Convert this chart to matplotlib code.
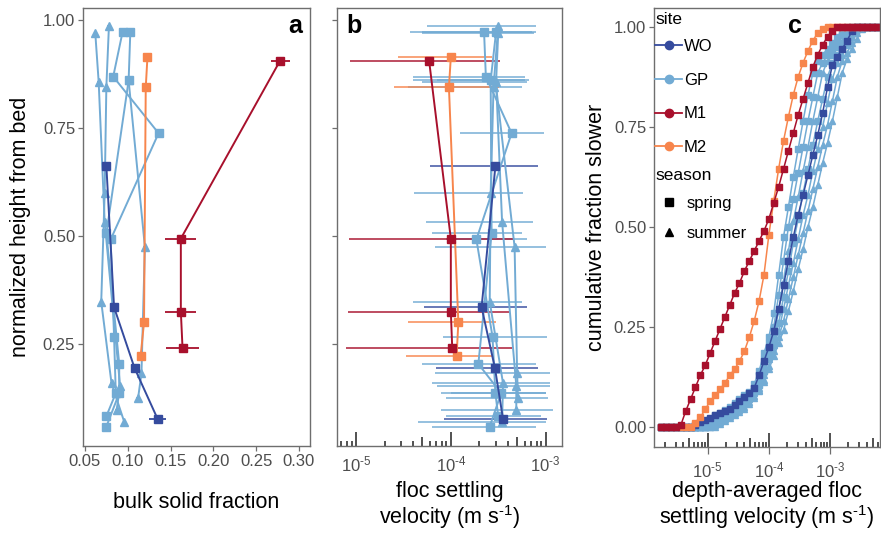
import numpy as np
import matplotlib
matplotlib.use('Agg')
import matplotlib.pyplot as plt
from matplotlib.lines import Line2D
from matplotlib.ticker import FixedLocator, NullLocator, LogLocator, FuncFormatter

plt.rcParams['font.family'] = ['Liberation Sans', 'DejaVu Sans']
plt.rcParams['mathtext.fontset'] = 'custom'
plt.rcParams['mathtext.rm'] = 'Liberation Sans'
plt.rcParams['mathtext.default'] = 'regular'

# ---- profiles (panels a and b) ----
PROFILE_SITE = ['GP', 'GP', 'GP', 'GP', 'GP', 'WO', 'M2', 'M1']
PROFILE_SEASON = ['spring', 'spring', 'summer', 'summer', 'summer', 'spring', 'spring', 'spring']
PROFILE_HEIGHT = [
    [0.973, 0.869, 0.738, 0.492, 0.267, 0.136, 0.083],
    [0.973, 0.860, 0.506, 0.204, 0.136, 0.059],
    [0.986, 0.846, 0.599, 0.348, 0.159, 0.069],
    [0.971, 0.857, 0.533, 0.153, 0.097],
    [0.860, 0.475, 0.182, 0.124],
    [0.662, 0.335, 0.194, 0.076],
    [0.914, 0.844, 0.300, 0.222],
    [0.906, 0.494, 0.325, 0.240],
]
PROFILE_SOLID = [
    [0.094, 0.083, 0.136, 0.080, 0.084, 0.086, 0.075],
    [0.103, 0.101, 0.075, 0.090, 0.090, 0.075],
    [0.078, 0.075, 0.073, 0.069, 0.081, 0.096],
    [0.062, 0.066, 0.073, 0.091, 0.087],
    [0.101, 0.120, 0.116, 0.112],
    [0.075, 0.084, 0.108, 0.135],
    [0.123, 0.121, 0.119, 0.115],
    [0.278, 0.162, 0.162, 0.164],
]
PROFILE_SOLID_ERR = [
    [0.002] * 7,
    [0.002] * 6,
    [0.002] * 6,
    [0.002] * 5,
    [0.002] * 4,
    [0.002, 0.002, 0.003, 0.010],
    [0.002, 0.002, 0.002, 0.002],
    [0.011, 0.018, 0.018, 0.019],
]
PROFILE_VEL = [
    [2.24e-4, 2.34e-4, 4.37e-4, 1.86e-4, 2.75e-4, 2.95e-4, 3.16e-4],
    [3.0e-4, 2.63e-4, 2.69e-4, 1.95e-4, 3.39e-4, 2.57e-4],
    [3.16e-4, 2.82e-4, 2.63e-4, 2.57e-4, 3.55e-4, 3.47e-4],
    [3.16e-4, 3.0e-4, 3.47e-4, 4.9e-4, 4.9e-4],
    [2.95e-4, 4.7e-4, 5.0e-4, 5.1e-4],
    [2.95e-4, 2.11e-4, 2.92e-4, 3.55e-4],
    [1.0e-4, 9.55e-5, 1.20e-4, 1.15e-4],
    [5.9e-5, 1.0e-4, 1.0e-4, 1.035e-4],
]
PROFILE_VEL_LO = [
    [3.7e-5, 4.0e-5, 1.26e-4, 8.9e-5, 8.3e-5, 1.0e-4, 8.9e-5],
    [5.0e-5, 7.1e-5, 6.3e-5, 5.0e-5, 7.9e-5, 6.3e-5],
    [5.6e-5, 3.5e-5, 4.1e-5, 4.0e-5, 6.3e-5, 4.5e-5],
    [5.0e-5, 5.0e-5, 5.5e-5, 7.1e-5, 7.9e-5],
    [4.0e-5, 6.8e-5, 6.8e-5, 8.9e-5],
    [6.0e-5, 5.2e-5, 6.9e-5, 8.5e-5],
    [2.8e-5, 2.5e-5, 3.5e-5, 3.4e-5],
    [8.7e-6, 8.5e-6, 8.3e-6, 7.9e-6],
]
PROFILE_VEL_HI = [
    [7.1e-4, 6.0e-4, 9.5e-4, 6.3e-4, 1.02e-3, 1.0e-3, 8.9e-4],
    [7.9e-4, 6.6e-4, 5.6e-4, 7.9e-4, 1.0e-3, 7.9e-4],
    [7.9e-4, 5.6e-4, 5.8e-4, 5.6e-4, 1.12e-3, 1.0e-3],
    [7.6e-4, 6.3e-4, 7.4e-4, 1.12e-3, 1.2e-3],
    [6.0e-4, 1.0e-3, 1.1e-3, 1.07e-3],
    [8.3e-4, 6.3e-4, 8.3e-4, 1.02e-3],
    [2.7e-4, 3.2e-4, 3.0e-4, 2.8e-4],
    [3.3e-4, 4.5e-4, 4.2e-4, 4.4e-4],
]

# ---- cumulative distributions (panel c) ----
VEL_BIN_EXP = [-5.76, -5.68, -5.60, -5.52, -5.44, -5.36, -5.28, -5.20, -5.12, -5.04,
               -4.96, -4.88, -4.80, -4.72, -4.64, -4.56, -4.48, -4.40, -4.32, -4.24,
               -4.16, -4.08, -4.00, -3.92, -3.84, -3.76, -3.68, -3.60, -3.52, -3.44,
               -3.36, -3.28, -3.20, -3.12, -3.04, -2.96, -2.88, -2.80, -2.72, -2.64,
               -2.56, -2.48, -2.40, -2.32, -2.24]
CDF_SITE = ['GP', 'GP', 'GP', 'GP', 'GP', 'GP', 'GP', 'WO', 'M2', 'M1']
CDF_SEASON = ['spring', 'spring', 'summer', 'spring', 'summer', 'summer', 'summer', 'spring', 'spring', 'spring']
CDF_VALUES = [
    [0, 0, 0, 0, 0, 0, 0, 0, 0.007, 0.015, 0.022, 0.03, 0.037, 0.044, 0.051, 0.062, 0.072, 0.081, 0.088, 0.108,
     0.14, 0.185, 0.225, 0.285, 0.38, 0.475, 0.55, 0.625, 0.695, 0.765, 0.83, 0.885, 0.915, 0.93, 0.945, 0.96,
     0.975, 0.99, 1, 1, 1, 1, 1, 1, 1],
    [0, 0, 0, 0, 0, 0, 0, 0, 0.003, 0.01, 0.017, 0.025, 0.032, 0.039, 0.046, 0.055, 0.066, 0.076, 0.087, 0.098,
     0.13, 0.17, 0.21, 0.25, 0.33, 0.415, 0.50, 0.57, 0.635, 0.70, 0.765, 0.825, 0.885, 0.91, 0.93, 0.945,
     0.96, 0.98, 0.995, 1, 1, 1, 1, 1, 1],
    [0, 0, 0, 0, 0, 0, 0, 0, 0, 0.005, 0.013, 0.02, 0.027, 0.035, 0.042, 0.05, 0.06, 0.071, 0.083, 0.094,
     0.12, 0.155, 0.19, 0.23, 0.29, 0.365, 0.44, 0.515, 0.575, 0.64, 0.70, 0.765, 0.825, 0.885, 0.915, 0.93,
     0.95, 0.965, 0.985, 1, 1, 1, 1, 1, 1],
    [0, 0, 0, 0, 0, 0, 0, 0, 0, 0, 0.008, 0.015, 0.023, 0.03, 0.037, 0.045, 0.053, 0.065, 0.077, 0.089,
     0.105, 0.14, 0.18, 0.215, 0.26, 0.325, 0.39, 0.46, 0.52, 0.585, 0.645, 0.705, 0.765, 0.82, 0.875, 0.91,
     0.93, 0.95, 0.97, 0.99, 1, 1, 1, 1, 1],
    [0, 0, 0, 0, 0, 0, 0, 0, 0, 0, 0.004, 0.011, 0.018, 0.025, 0.033, 0.04, 0.047, 0.058, 0.072, 0.085,
     0.098, 0.13, 0.17, 0.205, 0.24, 0.295, 0.355, 0.41, 0.47, 0.53, 0.58, 0.64, 0.695, 0.75, 0.81, 0.87,
     0.91, 0.93, 0.955, 0.975, 0.997, 1, 1, 1, 1],
    [0, 0, 0, 0, 0, 0, 0, 0, 0, 0, 0, 0.006, 0.014, 0.021, 0.028, 0.035, 0.043, 0.05, 0.064, 0.079,
     0.093, 0.118, 0.153, 0.19, 0.225, 0.265, 0.32, 0.375, 0.43, 0.485, 0.54, 0.595, 0.65, 0.705, 0.755, 0.815,
     0.875, 0.915, 0.935, 0.96, 0.985, 1, 1, 1, 1],
    [0, 0, 0, 0, 0, 0, 0, 0, 0, 0, 0, 0.002, 0.009, 0.017, 0.024, 0.031, 0.039, 0.046, 0.058, 0.074,
     0.09, 0.112, 0.145, 0.177, 0.21, 0.242, 0.29, 0.34, 0.395, 0.445, 0.50, 0.55, 0.605, 0.66, 0.71, 0.765,
     0.825, 0.885, 0.92, 0.945, 0.97, 0.995, 1, 1, 1],
    [0, 0, 0, 0, 0, 0, 0.001, 0.007, 0.013, 0.019, 0.024, 0.03, 0.036, 0.042, 0.047, 0.055, 0.066, 0.076, 0.087, 0.098,
     0.13, 0.165, 0.20, 0.24, 0.295, 0.355, 0.415, 0.475, 0.53, 0.58, 0.63, 0.68, 0.73, 0.785, 0.85, 0.905,
     0.925, 0.945, 0.965, 0.99, 1, 1, 1, 1, 1],
    [0, 0, 0, 0, 0, 0, 0, 0.01, 0.025, 0.045, 0.065, 0.08, 0.095, 0.11, 0.13, 0.145, 0.165, 0.19, 0.225, 0.265,
     0.315, 0.38, 0.48, 0.565, 0.645, 0.715, 0.775, 0.83, 0.875, 0.91, 0.94, 0.965, 0.985, 0.995, 1, 1,
     1, 1, 1, 1, 1, 1, 1, 1, 1],
    [0, 0, 0, 0, 0.005, 0.04, 0.07, 0.10, 0.13, 0.155, 0.185, 0.215, 0.245, 0.275, 0.305, 0.335, 0.36, 0.39, 0.415, 0.44,
     0.465, 0.49, 0.52, 0.56, 0.60, 0.645, 0.69, 0.735, 0.78, 0.82, 0.86, 0.90, 0.93, 0.955, 0.975, 0.99,
     1, 1, 1, 1, 1, 1, 1, 1, 1],
]

SITE_ORDER = ['WO', 'GP', 'M1', 'M2']
SEASON_ORDER = ['spring', 'summer']

# ---- styles ----
SITE_COLORS = {'WO': '#354b9e', 'GP': '#72abd4', 'M1': '#a8102c', 'M2': '#f7854c'}
SEASON_MARKERS = {'spring': 's', 'summer': '^'}
TICK_GREY = '#4d4d4d'
FRAME_GREY = '#6e6e6e'
HY = '\u2010'  # short hyphen used in the exponents

W, H = 881, 533
fig = plt.figure(figsize=(W / 100, H / 100), dpi=100)


def px_axes(l, t, r, b):
    return fig.add_axes([l / W, 1 - b / H, (r - l) / W, (b - t) / H])


ax_a = px_axes(83, 8, 310, 446)
ax_b = px_axes(336.7, 8, 562.3, 446)
ax_c = px_axes(654, 8, 880, 447)

for ax in (ax_a, ax_b, ax_c):
    for sp in ax.spines.values():
        sp.set_color(FRAME_GREY)
        sp.set_linewidth(1.0)
    ax.tick_params(colors=FRAME_GREY, labelcolor=TICK_GREY, labelsize=12,
                   length=3.6, width=0.9, pad=2)

pow10 = FuncFormatter(lambda v, p: '10$^{' + HY + '%d}$' % round(-np.log10(v)))

# ---- panel a ----
for site, season, h, s, serr in zip(PROFILE_SITE, PROFILE_SEASON, PROFILE_HEIGHT,
                                    PROFILE_SOLID, PROFILE_SOLID_ERR):
    col = SITE_COLORS[site]
    ax_a.errorbar(s, h, xerr=serr, fmt='none', ecolor=col, elinewidth=1.3, capsize=0)
    ax_a.plot(s, h, color=col, lw=1.4, marker=SEASON_MARKERS[season], ms=5.5,
              mfc=col, mec=col)

ax_a.set_xlim(0.0477, 0.3129)
ax_a.set_ylim(0.0139, 1.0278)
ax_a.xaxis.set_major_locator(FixedLocator([0.05, 0.10, 0.15, 0.20, 0.25, 0.30]))
ax_a.set_xticklabels(['0.05', '0.10', '0.15', '0.20', '0.25', '0.30'])
ax_a.yaxis.set_major_locator(FixedLocator([0.25, 0.50, 0.75, 1.00]))
ax_a.set_yticklabels(['0.25', '0.50', '0.75', '1.00'])

# ---- panel b ----
for site, h, v, lo, hi in zip(PROFILE_SITE, PROFILE_HEIGHT, PROFILE_VEL,
                              PROFILE_VEL_LO, PROFILE_VEL_HI):
    ax_b.hlines(h, lo, hi, color=SITE_COLORS[site], lw=1.4, alpha=0.75)
for site, season, h, v in zip(PROFILE_SITE, PROFILE_SEASON, PROFILE_HEIGHT, PROFILE_VEL):
    col = SITE_COLORS[site]
    ax_b.plot(v, h, color=col, lw=1.4, marker=SEASON_MARKERS[season], ms=5.5,
              mfc=col, mec=col)

ax_b.set_xscale('log')
ax_b.set_xlim(10 ** -5.203, 10 ** -2.825)
ax_b.set_ylim(0.0139, 1.0278)
ax_b.yaxis.set_major_locator(FixedLocator([0.25, 0.50, 0.75, 1.00]))
ax_b.set_yticklabels([])
ax_b.xaxis.set_major_locator(LogLocator(base=10, subs=(1.0,)))
ax_b.xaxis.set_major_formatter(pow10)
ax_b.xaxis.set_minor_locator(NullLocator())
ax_b.tick_params(axis='x', length=0, pad=6)

# ---- panel c ----
vel_bins = 10.0 ** np.array(VEL_BIN_EXP)
for site, season, vals in zip(CDF_SITE, CDF_SEASON, CDF_VALUES):
    col = SITE_COLORS[site]
    ax_c.plot(vel_bins, vals, color=col, lw=1.1, marker=SEASON_MARKERS[season], ms=4.6,
              mfc=col, mec=col)

ax_c.set_xscale('log')
ax_c.set_xlim(10 ** -5.877, 10 ** -2.183)
ax_c.set_ylim(-0.049, 1.0467)
ax_c.yaxis.set_major_locator(FixedLocator([0, 0.25, 0.50, 0.75, 1.00]))
ax_c.set_yticklabels(['0.00', '0.25', '0.50', '0.75', '1.00'])
ax_c.xaxis.set_major_locator(LogLocator(base=10, subs=(1.0,)))
ax_c.xaxis.set_major_formatter(pow10)
ax_c.xaxis.set_minor_locator(NullLocator())
ax_c.tick_params(axis='x', length=5, pad=5)


def log_ticks(ax, e0, e1, axes_h):
    lo, hi = ax.get_xlim()
    trans = ax.get_xaxis_transform()
    for e in range(e0, e1 + 1):
        for k in range(1, 10):
            v = k * 10.0 ** e
            if v < lo or v > hi:
                continue
            ln = 14 if k == 1 else (9 if k == 5 else 5)
            ax.plot([v, v], [0, ln / axes_h], transform=trans, color='#222222',
                    lw=1.1, solid_capstyle='butt', clip_on=False)


log_ticks(ax_b, -6, -3, 438)
log_ticks(ax_c, -6, -3, 439)

# legends (titles as separate texts so the spacing can follow the reference)
site_handles = [Line2D([0], [0], color=SITE_COLORS[s], lw=1.3, marker='o', ms=6)
                for s in SITE_ORDER]
leg1 = ax_c.legend(site_handles, SITE_ORDER, loc='upper left',
                   bbox_to_anchor=(0.0, 1 - 30 / 439), frameon=False, fontsize=12,
                   labelspacing=1.13, handlelength=1.65,
                   handletextpad=0.1, borderaxespad=0, borderpad=0.05)
ax_c.add_artist(leg1)
ax_c.text(0.008, 1 - 12 / 439, 'site', transform=ax_c.transAxes, ha='left',
          va='center', fontsize=12.5)

season_handles = [Line2D([0], [0], color='black', lw=0, marker=SEASON_MARKERS[s], ms=5.5)
                  for s in SEASON_ORDER]
ax_c.legend(season_handles, SEASON_ORDER, loc='upper left',
            bbox_to_anchor=(0.0, 1 - 187 / 439), frameon=False, fontsize=12,
            labelspacing=0.9, handlelength=1.65,
            handletextpad=0.25, borderaxespad=0, borderpad=0.05)
ax_c.text(0.008, 1 - 167 / 439, 'season', transform=ax_c.transAxes, ha='left',
          va='center', fontsize=12.5)

# axis titles and panel letters
TITLE_FS = 15.5
fig.text(21 / W, 1 - 227 / H, 'normalized height from bed', rotation=90,
         ha='center', va='center', fontsize=TITLE_FS)
fig.text(596 / W, 1 - 227 / H, 'cumulative fraction slower', rotation=90,
         ha='center', va='center', fontsize=TITLE_FS)
fig.text(196.5 / W, 1 - 503 / H, 'bulk solid fraction', ha='center', va='center',
         fontsize=TITLE_FS)
fig.text(449.5 / W, 1 - 506 / H, 'floc settling\nvelocity (m s$^{' + HY + '1}$)',
         ha='center', va='center', fontsize=TITLE_FS, linespacing=1.05)
fig.text(767 / W, 1 - 506 / H,
         'depth-averaged floc\nsettling velocity (m s$^{' + HY + '1}$)',
         ha='center', va='center', fontsize=TITLE_FS, linespacing=1.05)

fig.text(302 / W, 1 - 33.3 / H, 'a', ha='right', va='baseline', fontsize=18,
         fontweight='bold')
fig.text(346 / W, 1 - 33.3 / H, 'b', ha='left', va='baseline', fontsize=18,
         fontweight='bold')
fig.text(794.5 / W, 1 - 33.3 / H, 'c', ha='center', va='baseline', fontsize=18,
         fontweight='bold')

fig.savefig('out.png', dpi=100)
